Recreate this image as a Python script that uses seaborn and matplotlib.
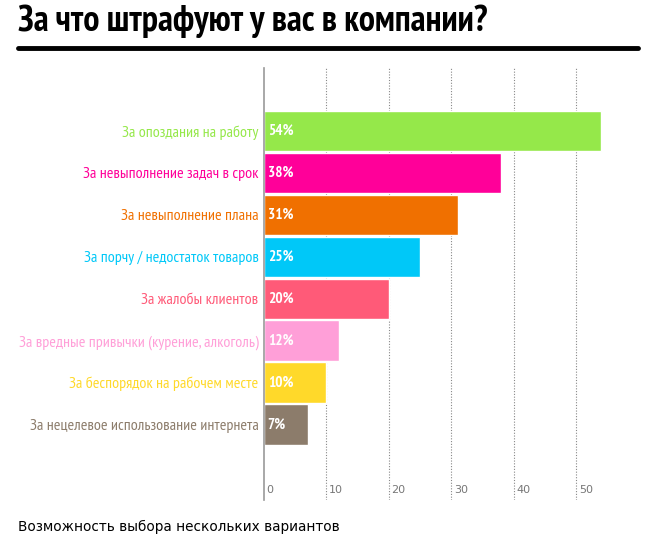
import matplotlib
matplotlib.use("Agg")
import matplotlib.pyplot as plt
import seaborn as sns
import pandas as pd

categories = [
    "За опоздания на работу",
    "За невыполнение задач в срок",
    "За невыполнение плана",
    "За порчу / недостаток товаров",
    "За жалобы клиентов",
    "За вредные привычки (курение, алкоголь)",
    "За беспорядок на рабочем месте",
    "За нецелевое использование интернета",
]
values = [54, 38, 31, 25, 20, 12, 10, 7]
colors = ["#95e84a", "#ff0099", "#f07000", "#00c8f8",
          "#ff5a78", "#ff9fd8", "#ffd92a", "#8c7c6b"]
xticks = [0, 10, 20, 30, 40, 50]

title = "За что штрафуют у вас в компании?"
footer = "Возможность выбора нескольких вариантов"

df = pd.DataFrame({"category": categories, "value": values})

sns.set_style("white")
plt.rcParams["font.family"] = ["PT Sans Narrow", "DejaVu Sans"]

fig = plt.figure(figsize=(6.51, 5.48), dpi=100)
ax = fig.add_axes([264 / 651, 1 - 500 / 548, 376 / 651, 432 / 548])

sns.barplot(data=df, x="value", y="category", hue="category",
            palette=colors, saturation=1, legend=False, width=0.96, ax=ax,
            edgecolor="white", linewidth=1)

ax.set_xlim(0, 60.2)
ax.set_ylim(8.8, -1.5)
ax.set_xlabel("")
ax.set_ylabel("")

# dotted grid lines
for t in xticks[1:]:
    ax.axvline(t, color="#888888", linestyle=(0, (1, 1.5)), linewidth=0.8, zorder=0)
ax.set_xticks([])
for t in xticks:
    ax.text(t + 0.4, 8.55, str(t), fontsize=8, color="#777777", va="center",
            ha="left", family=["DejaVu Sans"])

for sp in ["top", "right", "bottom"]:
    ax.spines[sp].set_visible(False)
ax.spines["left"].set_color("#999999")
ax.spines["left"].set_linewidth(1.2)

ax.tick_params(axis="y", length=0, pad=4, labelsize=11.5)
for lbl, c in zip(ax.get_yticklabels(), colors):
    lbl.set_color(c)

# percent labels inside bars
for i, v in enumerate(values):
    ax.text(0.6, i, f"{v}%", color="white", fontsize=11, fontweight="bold",
            va="center", ha="left")

fig.text(18 / 651, 1 - 21 / 548, title, fontsize=26, fontweight="bold",
         color="black", va="center", ha="left")
fig.add_artist(plt.Line2D([18 / 651, 638 / 651], [1 - 48 / 548, 1 - 48 / 548],
                          color="black", linewidth=3.5))
fig.text(18 / 651, 1 - 527 / 548, footer, fontsize=9.8, color="black",
         va="center", ha="left", family=["DejaVu Sans"])

fig.savefig("out.png", dpi=100)
